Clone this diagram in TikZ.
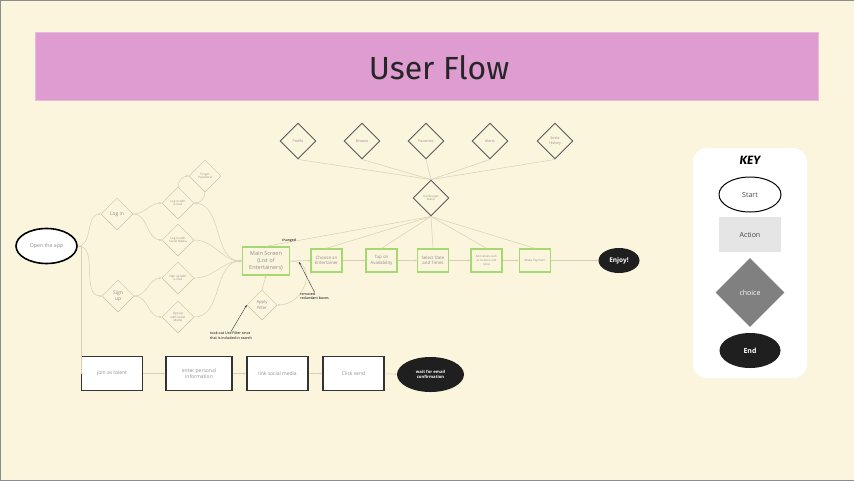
\documentclass[tikz,border=0pt]{standalone}
\usepackage{fontspec}
\setmainfont{Open Sans}
\newfontfamily\brushfont{Fira Sans}
\usetikzlibrary{positioning, arrows.meta, shapes.geometric}

\definecolor{bgc}{HTML}{FBF5DD}
\definecolor{bannerc}{HTML}{DE9CD0}
\definecolor{fgreen}{HTML}{A6D872}
\definecolor{fline}{HTML}{D8CFB3}
\definecolor{dline}{HTML}{CBC2A6}
\definecolor{tgray}{HTML}{8E8E8E}

\begin{document}
\begin{tikzpicture}[x=1pt, y=-1pt,
    opt/.style={diamond, draw=dline, line width=0.5pt, minimum size=32pt, inner sep=0pt, align=center, text=tgray, font=\fontsize{3}{3.6}\selectfont},
    menuopt/.style={diamond, draw=black!65, line width=0.9pt, minimum size=36pt, inner sep=0pt, align=center, text=tgray, font=\fontsize{3.6}{4.4}\selectfont},
    act/.style={rectangle, draw=fgreen, line width=1.4pt, fill=bgc, minimum width=31pt, minimum height=23pt, inner sep=1pt, align=center, text=tgray, font=\fontsize{4.4}{5.4}\selectfont},
    talent/.style={rectangle, draw=black!80, line width=1.8pt, fill=white, minimum width=61pt, minimum height=34pt, align=center, text=tgray, font=\fontsize{5}{6.4}\selectfont},
    endnode/.style={ellipse, fill=black!88, text=white, inner sep=0pt, align=center},
    flow/.style={draw=fline, line width=0.5pt, -{Stealth[length=2.5pt, width=2pt]}},
    spoke/.style={draw=fline, line width=0.5pt},
    note/.style={align=left, font=\fontsize{3.6}{4.6}\selectfont, text=black, inner sep=0pt},
    ann/.style={draw=black!80, line width=0.4pt, -{Stealth[length=2.5pt, width=2pt]}}]

    % background
    \useasboundingbox (0,0) rectangle (854,480);
    \draw[fill=bgc, draw=black!45, line width=0.8pt] (0,0) rectangle (854,480);

    % title banner
    \node[fill=bannerc, draw=bannerc!70!white, line width=0.5pt, minimum width=783pt, minimum height=68pt] (banner) at (426.5,66) {};
    \node[font=\brushfont\fontsize{32}{34}\selectfont, text=black!85] (title) at (439,68) {User Flow};

    % start
    \node[ellipse, draw=black, line width=1.6pt, fill=white, minimum width=61pt, minimum height=35pt, inner sep=0pt, text=tgray, font=\fontsize{5.2}{6}\selectfont] (open) at (46.5,246) {Open the app};

    % log in / sign up
    \node[opt, font=\fontsize{5}{6}\selectfont] (login) at (117,214) {Log in};
    \node[opt, font=\fontsize{5}{6}\selectfont] (signup) at (118,296) {Sign\\up};
    \node[opt] (lmail) at (178,203) {Log in with\\e-mail};
    \node[opt] (forgot) at (205,176) {Forgot\\Password};
    \node[opt] (lsoc) at (178,240) {Log in with\\Social Media};
    \node[opt] (smail) at (178,278) {Sign up with\\e-mail};
    \node[opt] (ssoc) at (178,317) {Sign up\\with Social\\Media};

    % main row
    \node[act, minimum width=47pt, minimum height=28pt, font=\fontsize{5.6}{6.8}\selectfont] (main) at (266,261) {Main Screen\\(List of\\Entertainers)};
    \node[opt, minimum size=30pt, font=\fontsize{4.2}{5.2}\selectfont] (filter) at (262,305) {Apply\\Filter};
    \node[act] (choose) at (326.5,260.5) {Choose an\\Entertainer};
    \node[act] (avail) at (381.5,260.5) {Tap on\\Availability};
    \node[act] (date) at (433,260.5) {Select Date\\and Times};
    \node[act, font=\fontsize{2.8}{3.6}\selectfont] (details) at (486.5,260.5) {Add details such\\as location and\\notes};
    \node[act, font=\fontsize{3}{3.6}\selectfont] (pay) at (535,260.5) {Make Payment};
    \node[endnode, minimum width=41pt, minimum height=25pt, font=\bfseries\fontsize{6.5}{8}\selectfont] (enjoy) at (619,260.5) {Enjoy!};

    % hamburger menu
    \node[menuopt, font=\fontsize{2.8}{3.6}\selectfont] (menu) at (431,198) {Hamburger\\Menu};
    \node[menuopt] (profile) at (298,141) {Profile};
    \node[menuopt] (browse) at (362,141) {Browse};
    \node[menuopt] (favs) at (426,141) {Favorites};
    \node[menuopt] (alerts) at (490,141) {Alerts};
    \node[menuopt] (smile) at (555,141) {Smile\\History};

    % talent row
    \node[talent] (join) at (112,373.5) {join as talent};
    \node[talent, minimum width=66pt] (info) at (199,373.5) {enter personal\\information};
    \node[talent] (social) at (277.5,373.5) {link social media};
    \node[talent] (send) at (353.5,373.5) {Click send};
    \node[endnode, minimum width=67pt, minimum height=35pt, font=\bfseries\fontsize{4.2}{5.4}\selectfont] (wait) at (430.5,374.5) {wait for email\\confirmation};

    % connectors
    \draw[flow] (open.east) to[out=0, in=180] (login.west);
    \draw[flow] (open.east) to[out=0, in=180] (signup.west);
    \draw[flow] (login.east) to[out=0, in=180] (lmail.west);
    \draw[flow] (login.east) to[out=0, in=180] (lsoc.west);
    \draw[flow] (signup.east) to[out=0, in=180] (smail.west);
    \draw[flow] (signup.east) to[out=0, in=180] (ssoc.west);
    \draw[flow] (lmail.north) to[out=90, in=180] (forgot.west);
    \draw[flow] (forgot.south) to[out=270, in=0] (lmail.east);
    \foreach \n in {lmail, lsoc, smail, ssoc}
        \draw[flow] (\n.east) to[out=0, in=180] (main.west);
    \draw[flow] (filter.north) -- (main.south);
    \draw[flow] (main.east) to[out=0, in=0, looseness=1.6] (filter.east);
    \draw[flow] (main) -- (choose);
    \draw[flow] (choose) -- (avail);
    \draw[flow] (avail) -- (date);
    \draw[flow] (date) -- (details);
    \draw[flow] (details) -- (pay);
    \draw[flow] (pay) -- (enjoy);
    \foreach \n in {main, choose, avail, date, details, pay}
        \draw[spoke] (menu.south) -- (\n.north);
    \foreach \n in {profile, browse, favs, alerts, smile}
        \draw[spoke] (menu.north) -- (\n.south);
    \draw[flow] (open.east) -- ++(3,0) |- (join.west);
    \draw[flow] (join) -- (info);
    \draw[flow] (info) -- (social);
    \draw[flow] (social) -- (send);
    \draw[flow] (send) -- (wait);

    % notes
    \node[note] (changed) at (289,241) {changed};
    \node[note] (removed) at (314.5,296) {removed\\redundant boxes};
    \coordinate (gap) at (299,262);
    \draw[ann] (removed.north) -- (gap);
    \node[note] (tookout) at (231,335.5) {took out Use Filter since\\that is included in search};
    \draw[ann] (tookout.north) -- (filter.west);

    % key
    \node[fill=white, rounded corners=14pt, minimum width=114pt, minimum height=230pt] (keybox) at (750,263) {};
    \node[font=\brushfont\bfseries\itshape\fontsize{12}{14}\selectfont] (keytitle) at (750,160) {KEY};
    \node[ellipse, draw=black, line width=1pt, fill=white, minimum width=62pt, minimum height=35pt, inner sep=0pt, font=\fontsize{7}{8}\selectfont, text=black!75] (kstart) at (750,194.5) {Start};
    \node[rectangle, fill=black!10, minimum width=62pt, minimum height=35pt, font=\fontsize{7}{8}\selectfont, text=black!75] (kaction) at (750,234.5) {Action};
    \node[diamond, fill=black!50, minimum size=69pt, inner sep=0pt, font=\fontsize{7}{8}\selectfont, text=white] (kchoice) at (750,292.5) {choice};
    \node[endnode, minimum width=61pt, minimum height=35pt, font=\bfseries\fontsize{7}{8}\selectfont] (kend) at (750,350.5) {End};
\end{tikzpicture}
\end{document}
